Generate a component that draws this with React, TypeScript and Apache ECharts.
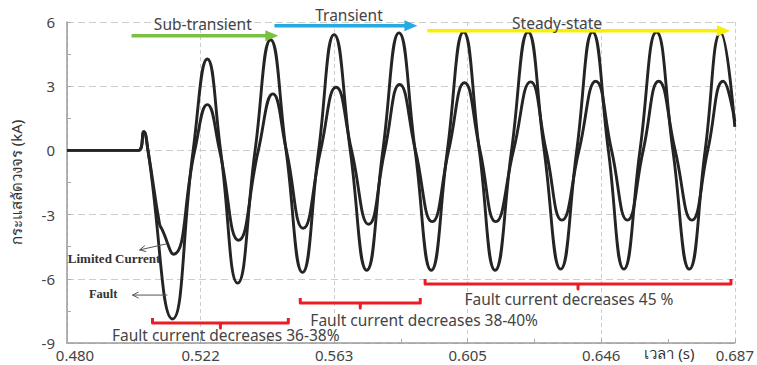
import { useEffect, useRef } from "react";
import * as echarts from "echarts";

// Time axis (s)
const X_MIN = 0.48;
const X_MAX = 0.687;
const X_STEP = 0.0414;
const timeTickLabels = ["0.480", "0.522", "0.563", "0.605", "0.646", "0.687"];

// Current axis (kA)
const Y_MIN = -9;
const Y_MAX = 6;
const Y_STEP = 3;

// Unlimited fault current: extrema and zero crossings of the waveform
const faultTime = [
  0.48, 0.5022, 0.5038, 0.5051, 0.5127, 0.5191, 0.5235, 0.5276, 0.5329, 0.5383,
  0.5431, 0.5479, 0.553, 0.558, 0.5628, 0.5678, 0.5729, 0.5779, 0.5829, 0.5879,
  0.5929, 0.5979, 0.6029, 0.6078, 0.6127, 0.6178, 0.6229, 0.6279, 0.633, 0.638,
  0.6429, 0.6478, 0.6526, 0.6576, 0.6627, 0.6678, 0.6729, 0.6778, 0.6826, 0.687,
];
const faultCurrent = [
  0, 0, 0.87, 0, -7.88, 0, 4.27, 0, -6.2, 0,
  5.17, 0, -5.7, 0, 5.41, 0, -5.6, 0, 5.49, 0,
  -5.6, 0, 5.53, 0, -5.6, 0, 5.53, 0, -5.55, 0,
  5.53, 0, -5.55, 0, 5.53, 0, -5.55, 0, 5.49, 1.1,
];

// Current with the limiter in circuit
const limitedTime = [
  0.48, 0.5022, 0.5038, 0.5051, 0.5087, 0.5095, 0.513, 0.5196, 0.5235, 0.5273,
  0.5332, 0.5393, 0.5438, 0.548, 0.5532, 0.5586, 0.5634, 0.5682, 0.5735, 0.5785,
  0.5831, 0.588, 0.5932, 0.5983, 0.6032, 0.608, 0.6129, 0.6184, 0.6237, 0.6285,
  0.6334, 0.6387, 0.6439, 0.6488, 0.6537, 0.6586, 0.6634, 0.6685, 0.6737, 0.6786,
  0.6834, 0.687,
];
const limitedCurrent = [
  0, 0, 0.87, 0, -3.45, -3.7, -4.85, 0, 2.14, 0,
  -4.2, 0, 2.64, 0, -3.64, 0, 2.95, 0, -3.45, 0,
  3.08, 0, -3.33, 0, 3.16, 0, -3.33, 0, 3.2, 0,
  -3.26, 0, 3.23, 0, -3.26, 0, 3.23, 0, -3.26, 0,
  3.23, 1.35,
];

// Operating phases after the fault (time spans)
const phaseNames = ["Sub-transient", "Transient", "Steady-state"];
const phaseStart = [0.5, 0.5443, 0.5917];
const phaseEnd = [0.5455, 0.5886, 0.6855];

// Reduction of the fault current over each span
const reductionNotes = [
  "Fault current decreases 36-38%",
  "Fault current decreases 38-40%",
  "Fault current decreases 45 %",
];
const reductionStart = [0.5065, 0.5523, 0.591];
const reductionEnd = [0.5486, 0.5895, 0.6858];

// ---- annotation layout (data coordinates) ----
const phaseArrowLevel = [5.36, 5.83, 5.59];
const phaseArrowColor = ["#7ac143", "#27aae1", "#f7f000"];
const phaseLabelAt = [
  [0.5221, 5.92],
  [0.5674, 6.34],
  [0.6319, 5.97],
];
const braceLevel = [-8.07, -7.13, -6.24];
const noteAt = [
  [0.5292, -8.63],
  [0.5907, -7.92],
  [0.6356, -6.94],
];

const FONT = '"Noto Sans", "Open Sans", sans-serif';
const SERIF = '"Liberation Serif", "DejaVu Serif", serif';
const TEXT_COLOR = "#444";
const BRACE_RED = "#ec1c24";

function textEl(x: number, y: number, text: string, size: number, opts: any = {}) {
  return {
    type: "text",
    x,
    y,
    z: 50,
    style: {
      text,
      fontSize: size,
      fontFamily: opts.family || FONT,
      fontWeight: opts.weight || "normal",
      fill: opts.color || TEXT_COLOR,
      align: "center",
      verticalAlign: "middle",
      textAlign: "center",
      textVerticalAlign: "middle",
    },
  };
}

function thinArrow(from: number[], to: number[]) {
  const dx = from[0] - to[0];
  const dy = from[1] - to[1];
  const len = Math.hypot(dx, dy) || 1;
  const ux = dx / len;
  const uy = dy / len;
  const head = 6;
  const wing = 3;
  return [
    {
      type: "line",
      z: 50,
      shape: { x1: from[0], y1: from[1], x2: to[0], y2: to[1] },
      style: { stroke: "#555", lineWidth: 1 },
    },
    {
      type: "polyline",
      z: 50,
      shape: {
        points: [
          [to[0] + ux * head - uy * wing, to[1] + uy * head + ux * wing],
          [to[0], to[1]],
          [to[0] + ux * head + uy * wing, to[1] + uy * head - ux * wing],
        ],
      },
      style: { stroke: "#555", lineWidth: 1, fill: "none" },
    },
  ];
}

function buildAnnotations(chart: echarts.ECharts) {
  const px = (t: number, v: number) =>
    chart.convertToPixel({ seriesIndex: 0 }, [t, v]) as number[];
  const els: any[] = [];

  // phase arrows with their names
  phaseNames.forEach((name, i) => {
    const [x1, y] = px(phaseStart[i], phaseArrowLevel[i]);
    const [x2] = px(phaseEnd[i], phaseArrowLevel[i]);
    const color = phaseArrowColor[i];
    els.push({
      type: "line",
      z: 40,
      shape: { x1, y1: y, x2: x2 - 8, y2: y },
      style: { stroke: color, lineWidth: 3.5 },
    });
    els.push({
      type: "polygon",
      z: 40,
      shape: { points: [[x2, y], [x2 - 13, y - 5.5], [x2 - 13, y + 5.5]] },
      style: { fill: color },
    });
    const [lx, ly] = px(phaseLabelAt[i][0], phaseLabelAt[i][1]);
    els.push(textEl(lx, ly, name, 15.5));
  });

  // red braces under the troughs with the reduction notes
  reductionNotes.forEach((note, i) => {
    const [x1, y] = px(reductionStart[i], braceLevel[i]);
    const [x2] = px(reductionEnd[i], braceLevel[i]);
    const xm = (x1 + x2) / 2;
    els.push({
      type: "polyline",
      z: 40,
      shape: {
        points: [
          [x1, y - 5],
          [x1, y],
          [xm, y],
          [xm, y + 5],
          [xm, y],
          [x2, y],
          [x2, y - 5],
        ],
      },
      style: { stroke: BRACE_RED, lineWidth: 3, fill: "none", lineJoin: "round" },
    });
    const [nx, ny] = px(noteAt[i][0], noteAt[i][1]);
    els.push(textEl(nx, ny, note, 15.5));
  });

  // curve identifiers on the first trough
  const [lcx, lcy] = px(0.4946, -5.03);
  els.push(textEl(lcx, lcy, "Limited Current", 13, { family: SERIF, weight: "bold", color: "#333" }));
  els.push(...thinArrow(px(0.5108, -4.37), px(0.5025, -4.65)));
  const [fx, fy] = px(0.4912, -6.71);
  els.push(textEl(fx, fy, "Fault", 12.5, { family: SERIF, weight: "bold", color: "#333" }));
  els.push(...thinArrow(px(0.5111, -6.76), px(0.5003, -6.76)));

  // time axis name
  const [tx, ty] = px(0.6667, Y_MIN);
  els.push(textEl(tx, ty + 10, "เวลา (s)", 15, { color: "#333" }));

  return els;
}

export default function App() {
  const ref = useRef<HTMLDivElement>(null);

  useEffect(() => {
    const el = ref.current;
    if (!el) return;
    const chart = echarts.init(el, null, { renderer: "svg" });

    const faultData = faultTime.map((t, i) => [t, faultCurrent[i]]);
    const limitedData = limitedTime.map((t, i) => [t, limitedCurrent[i]]);
    const waveStyle = { color: "#242424", width: 2.9 };

    chart.setOption({
      animation: false,
      backgroundColor: "#fff",
      grid: { left: 62, right: 22, top: 22, bottom: 22, containLabel: false },
      xAxis: {
        type: "value",
        min: X_MIN,
        max: X_MAX,
        interval: X_STEP,
        axisLine: { show: true, onZero: false, lineStyle: { color: "#9a9a9a", width: 1.5 } },
        axisTick: { show: true, inside: true, length: 4, lineStyle: { color: "#aaa" } },
        minorTick: { show: true, splitNumber: 2, length: 4, lineStyle: { color: "#aaa" } },
        splitLine: { show: true, lineStyle: { color: "#cdcdcd", width: 1, type: [4, 3] } },
        axisLabel: {
          margin: 4,
          fontSize: 15,
          fontFamily: FONT,
          color: TEXT_COLOR,
          formatter: (v: number) => {
            const i = Math.round((v - X_MIN) / X_STEP);
            const s = timeTickLabels[i] ?? "";
            return i === 0 ? `{first|${s}}` : s;
          },
          rich: {
            first: { fontSize: 15, fontFamily: FONT, color: TEXT_COLOR, padding: [0, 0, 0, 16] },
          },
        },
      },
      yAxis: {
        type: "value",
        min: Y_MIN,
        max: Y_MAX,
        interval: Y_STEP,
        name: "กระแสลัดวงจร (kA)",
        nameLocation: "middle",
        nameGap: 44,
        nameRotate: 90,
        nameTextStyle: { fontSize: 15, fontFamily: FONT, color: "#333" },
        axisLine: { show: true, lineStyle: { color: "#9a9a9a", width: 1.5 } },
        axisTick: { show: true, inside: true, length: 4, lineStyle: { color: "#aaa" } },
        minorTick: { show: true, splitNumber: 2, length: 4, lineStyle: { color: "#aaa" } },
        splitLine: { show: true, lineStyle: { color: "#cdcdcd", width: 1, type: [7, 4] } },
        axisLabel: { margin: 12, fontSize: 15, fontFamily: FONT, color: TEXT_COLOR },
      },
      series: [
        {
          name: "Fault",
          type: "line",
          data: faultData,
          smooth: 0.5,
          showSymbol: false,
          symbol: "none",
          lineStyle: waveStyle,
          z: 10,
        },
        {
          name: "Limited Current",
          type: "line",
          data: limitedData,
          smooth: 0.5,
          showSymbol: false,
          symbol: "none",
          lineStyle: waveStyle,
          z: 11,
        },
      ],
    });

    chart.setOption({ graphic: { elements: buildAnnotations(chart) } });

    return () => chart.dispose();
  }, []);

  return (
    <div
      ref={ref}
      style={{ position: "fixed", left: 0, top: 0, width: 757, height: 365, background: "#fff" }}
    />
  );
}
